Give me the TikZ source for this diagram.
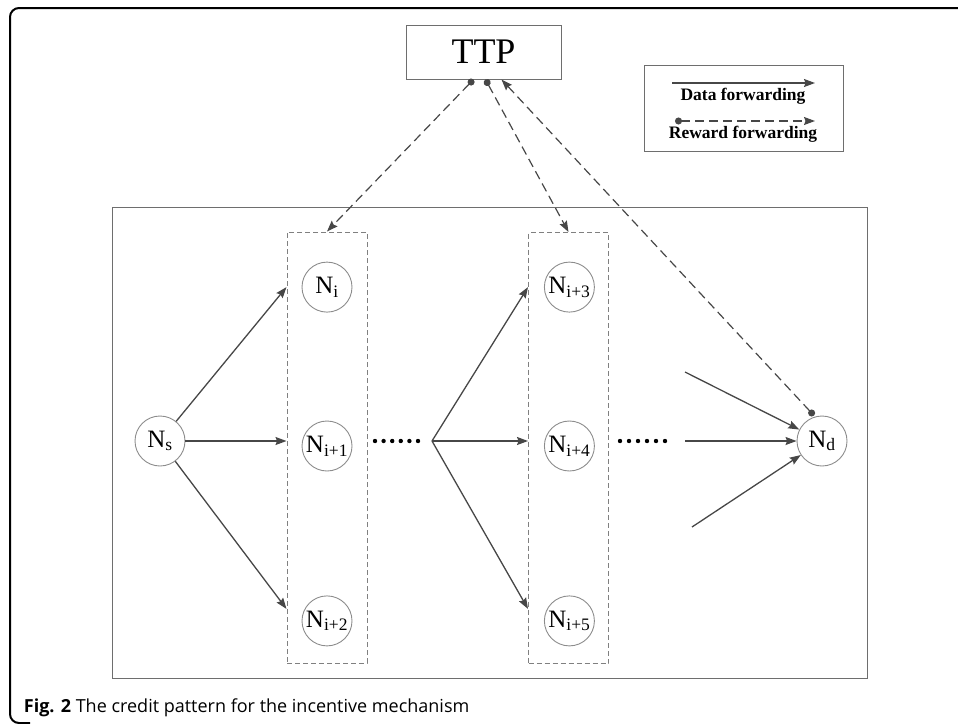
\documentclass[tikz,border=0pt]{standalone}
\usepackage{fontspec}
\setmainfont{Liberation Serif}
\newfontfamily\capfont{Open Sans}
\usetikzlibrary{arrows.meta,positioning}

\definecolor{linegray}{HTML}{474747}
\definecolor{boxgray}{HTML}{6E6E6E}
\definecolor{circgray}{HTML}{8C8C8C}
\definecolor{dashgray}{HTML}{808080}

\begin{document}
\begin{tikzpicture}[x=1pt,y=-1pt,line width=1.2pt,>={Stealth[length=11pt,width=8pt,inset=1.5pt]}]
  \tikzstyle{peer} = [circle,draw=circgray,line width=0.9pt,minimum size=50pt,inner sep=0pt,font=\fontsize{25}{25}\selectfont]
  \tikzstyle{group} = [draw=dashgray,dash pattern=on 5pt off 3pt,line width=1pt,minimum width=80pt,minimum height=431pt]
  \tikzstyle{data} = [->,draw=linegray,line width=1.3pt]
  \tikzstyle{reward} = [{Circle[length=7pt]}->,draw=linegray,dash pattern=on 9pt off 5pt,line width=1.2pt]
  \tikzstyle{legend text} = [font=\bfseries\fontsize{17.5}{17.5}\selectfont]

  \useasboundingbox (0,0) rectangle (958,723);
  % frame of the figure
  \draw[line width=2pt,rounded corners=9pt] (958,8) -- (10,8) -- (10,723) -- (30,723);

  \node[draw=boxgray,line width=1pt,minimum width=755pt,minimum height=471pt] (area) at (489.5,442.5) {};

  \node[draw=boxgray,line width=1pt,minimum width=155pt,minimum height=54pt,font=\fontsize{36}{36}\selectfont] (ttp) at (483.5,52) {TTP};

  % legend
  \node[draw=boxgray,line width=1pt,minimum width=199pt,minimum height=86pt] (legend) at (743.5,108) {};
  \coordinate (ldata a) at (672,83);
  \coordinate (ldata b) at (815,83);
  \node[legend text] (ldata) at (743,96) {Data forwarding};
  \coordinate (lrew a) at (675,121);
  \coordinate (lrew b) at (815,121);
  \node[legend text] (lrew) at (743,134) {Reward forwarding};
  \draw[data] (ldata a) -- (ldata b);
  \draw[reward] (lrew a) -- (lrew b);

  % nodes
  \node[peer] (ns) at (160,441) {N\textsubscript{s}};
  \node[peer] (ni1) at (327,446) {N\textsubscript{i+1}};
  \node[peer,above=108pt of ni1] (ni) {N\textsubscript{i}};
  \node[peer,below=124pt of ni1] (ni2) {N\textsubscript{i+2}};
  \node[peer,right=191.5pt of ni1] (ni4) {N\textsubscript{i+4}};
  \node[peer,above=108pt of ni4] (ni3) {N\textsubscript{i+3}};
  \node[peer,below=124pt of ni4] (ni5) {N\textsubscript{i+5}};
  \node[peer] (nd) at (822,441) {N\textsubscript{d}};

  \node[group] (g1) at (327,447.5) {};
  \node[group] (g2) at (568.5,448) {};

  % dots
  \foreach \k in {0,...,5} {
    \fill (375+8.6*\k,441) circle (2.2pt);
    \fill (620+9*\k,441) circle (2.2pt);
  }

  % data forwarding
  \path (g1.west |- ni2) ++(0,-12) coordinate (g1 low);
  \draw[data] (ns) -- (g1.west |- ni);
  \draw[data] (ns) -- (g1.west |- ns);
  \draw[data] (ns) -- (g1 low);

  \coordinate (fan) at (432,441);
  \path (g2.west |- ni5) ++(0,-12) coordinate (g2 low);
  \draw[data] (fan) -- (g2.west |- ni3);
  \draw[data] (fan) -- (g2.west |- fan);
  \draw[data] (fan) -- (g2 low);

  \coordinate (in1) at (685,372);
  \coordinate (in2) at (685,441);
  \coordinate (in3) at (692,527);
  \draw[data] (in1) -- (nd);
  \draw[data] (in2) -- (nd);
  \draw[data] (in3) -- (nd);

  % reward forwarding
  \coordinate (t1) at ([xshift=-10pt]ttp.south);
  \coordinate (t2) at ([xshift=2pt]ttp.south);
  \coordinate (t3) at ([xshift=18pt]ttp.south);
  \coordinate (nd top) at ([xshift=-8pt]nd.north);
  \draw[reward] (t1) -- (g1.north);
  \draw[reward] (t2) -- (g2.north);
  \draw[reward] (nd top) -- (t3);

  \node[anchor=base west,font=\capfont\fontsize{18}{18}\selectfont] (caption) at (20,712) {{\bfseries Fig. 2} The credit pattern for the incentive mechanism};
\end{tikzpicture}
\end{document}
